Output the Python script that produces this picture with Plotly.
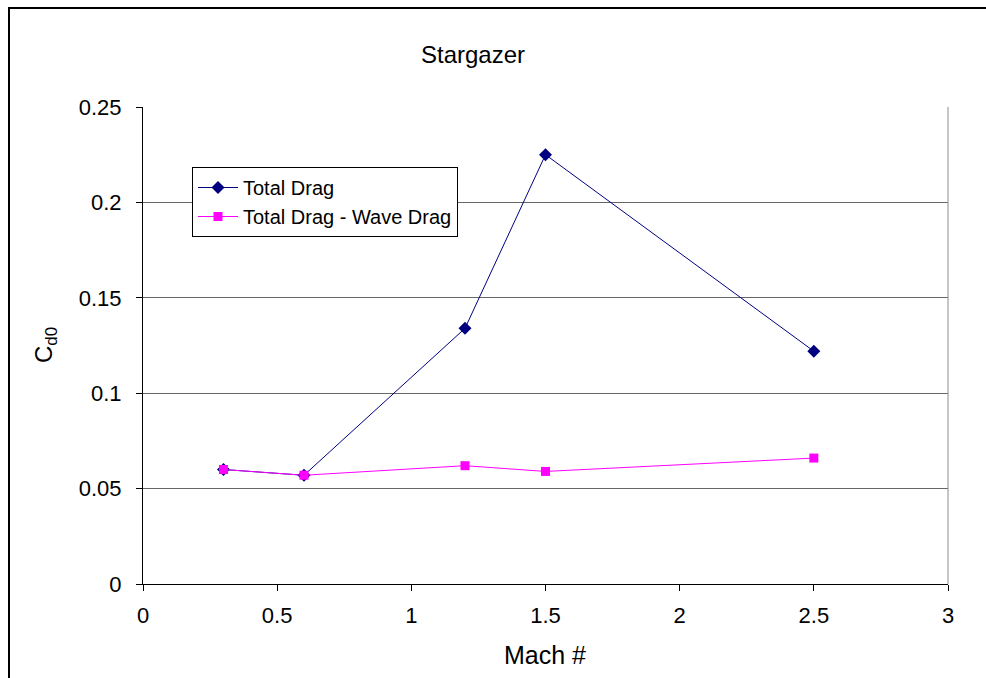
import plotly.graph_objects as go

mach = [0.3, 0.6, 1.2, 1.5, 2.5]
total_drag = [0.060, 0.057, 0.134, 0.225, 0.122]
minus_wave = [0.060, 0.057, 0.062, 0.059, 0.066]

x_ticks = [0, 0.5, 1, 1.5, 2, 2.5, 3]
y_ticks = [0, 0.05, 0.1, 0.15, 0.2, 0.25]

FONT = "Arial, 'Liberation Sans', sans-serif"
W, H = 986, 678
L, R, T, B = 143, 38, 107, 94
pw, ph = W - L - R, H - T - B

fig = go.Figure()
fig.add_trace(go.Scatter(x=mach, y=total_drag, mode="lines+markers", name="Total Drag",
                         line=dict(color="#000080", width=1),
                         marker=dict(symbol="diamond", size=10, color="#000080")))
fig.add_trace(go.Scatter(x=mach, y=minus_wave, mode="lines+markers", name="Total Drag - Wave Drag",
                         line=dict(color="#FF00FF", width=1),
                         marker=dict(symbol="square", size=9, color="#FF00FF")))

def px(xp):
    return (xp - L) / pw

def py(yp):
    return (H - B - yp) / ph

fig.update_layout(
    width=W, height=H,
    margin=dict(l=L, r=R, t=T, b=B),
    paper_bgcolor="white", plot_bgcolor="white",
    font=dict(family=FONT, size=22, color="black"),
    title=dict(text="Stargazer", x=473 / W, xanchor="center", y=1 - 55 / H, yanchor="middle",
               font=dict(family=FONT, size=24, color="black")),
    xaxis=dict(range=[0, 3], tickvals=x_ticks, ticktext=[f"{v:g}" for v in x_ticks],
               showgrid=False, zeroline=False, showline=True, linecolor="black", linewidth=1,
               ticks="outside", ticklen=6, tickcolor="black", ticklabelstandoff=6,
               tickfont=dict(family=FONT, size=22)),
    yaxis=dict(range=[0, 0.25], tickvals=y_ticks, ticktext=[f"{v:g}" for v in y_ticks],
               showgrid=True, gridcolor="#666666", gridwidth=1, zeroline=False,
               showline=True, linecolor="black", linewidth=1,
               ticks="outside", ticklen=6, tickcolor="black", ticklabelstandoff=10,
               tickfont=dict(family=FONT, size=22)),
    legend=dict(x=px(192), y=py(167), xanchor="left", yanchor="top",
                bgcolor="white", bordercolor="black", borderwidth=1,
                font=dict(family=FONT, size=20), tracegroupgap=0, itemwidth=40),
    showlegend=True,
)

# right plot border (gray)
fig.add_shape(type="line", xref="paper", yref="paper", x0=1, x1=1, y0=0, y1=1,
              line=dict(color="#8c8c8c", width=1))
# outer chart border
fig.add_shape(type="rect", xref="paper", yref="paper",
              x0=px(9), x1=px(995), y0=py(690), y1=py(8),
              line=dict(color="black", width=2), layer="below")
# axis titles
fig.add_annotation(text="C<sub>d0</sub>", xref="paper", yref="paper", x=px(45), y=py(345),
                   xanchor="center", yanchor="middle", showarrow=False, textangle=-90,
                   font=dict(family=FONT, size=24, color="black"))
fig.add_annotation(text="Mach #", xref="paper", yref="paper", x=px(545), y=py(655),
                   xanchor="center", yanchor="middle", showarrow=False,
                   font=dict(family=FONT, size=25, color="black"))

fig.write_html("out.html")
